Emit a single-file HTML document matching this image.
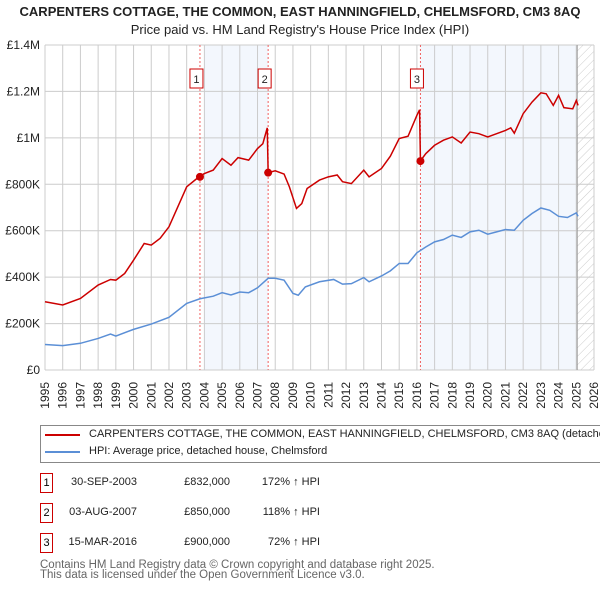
<!DOCTYPE html>
<html><head><meta charset="utf-8"><style>
body{margin:0;width:600px;height:590px;background:#fff;font-family:"Liberation Sans","DejaVu Sans",sans-serif;position:relative;overflow:hidden}
.t{position:absolute;white-space:nowrap}
</style></head><body>
<div class="t" style="left:0;width:600px;text-align:center;top:4px;font-size:13px;font-weight:bold;color:#222">CARPENTERS COTTAGE, THE COMMON, EAST HANNINGFIELD, CHELMSFORD, CM3 8AQ</div>
<div class="t" style="left:0;width:600px;text-align:center;top:22px;font-size:13px;color:#222">Price paid vs. HM Land Registry's House Price Index (HPI)</div>
<svg id="c" width="600" height="420" style="position:absolute;left:0;top:0"></svg>
<div style="position:absolute;left:40px;top:425px;width:560px;height:36px;border:1px solid #888;border-right:none;overflow:hidden">
<div style="position:absolute;left:4px;top:8px;width:35px;height:2px;background:#cc0000"></div>
<div class="t" style="left:48px;top:2px;font-size:11px;color:#222">CARPENTERS COTTAGE, THE COMMON, EAST HANNINGFIELD, CHELMSFORD, CM3 8AQ (detached house)</div>
<div style="position:absolute;left:4px;top:25px;width:35px;height:2px;background:#5b8fd6"></div>
<div class="t" style="left:48px;top:19px;font-size:11px;color:#222">HPI: Average price, detached house, Chelmsford</div>
</div>
<div id="rows"></div>
<div class="t" style="left:40px;top:560px;font-size:11.5px;color:#666;line-height:10px">Contains HM Land Registry data © Crown copyright and database right 2025.<br>This data is licensed under the Open Government Licence v3.0.</div>
<script>
const hpiYears=[1995,1996,1997,1998,1998.7,1999,2000,2001,2002,2003,2003.75,2004.5,2005,2005.5,2006,2006.5,2007,2007.6,2008,2008.5,2009,2009.3,2009.7,2010.5,2011.3,2011.8,2012.3,2013,2013.3,2014,2014.5,2015,2015.5,2016,2016.5,2017,2017.5,2018,2018.5,2019,2019.5,2020,2020.5,2021,2021.5,2022,2022.5,2023,2023.5,2024,2024.5,2025,2025.1];
const hpiValues=[110,105,115,136,155,146,175,198,227,287,307,318,333,323,336,333,354,395,395,387,330,322,358,380,390,370,372,398,380,405,427,459,459,505,530,552,562,581,571,595,602,585,595,605,602,645,674,698,688,662,657,677,662];
const redYears=[1995,1996,1997,1998,1998.7,1999,1999.5,2000,2000.6,2001,2001.5,2002,2002.5,2003,2003.5,2003.75,2004,2004.5,2005,2005.5,2005.9,2006.5,2007,2007.3,2007.55,2007.6,2008,2008.5,2008.8,2009.2,2009.5,2009.8,2010.5,2011,2011.5,2011.8,2012.3,2013,2013.3,2014,2014.5,2015,2015.5,2016,2016.15,2016.2,2016.5,2017,2017.5,2018,2018.5,2019,2019.5,2020,2020.5,2021,2021.3,2021.5,2022,2022.5,2023,2023.3,2023.7,2024,2024.3,2024.8,2025,2025.1];
const redValues=[294,280,308,366,390,387,416,473,545,538,567,617,703,789,820,835,846,861,911,882,915,904,954,975,1043,850,858,844,789,696,717,782,818,832,840,811,803,861,832,868,921,997,1007,1097,1121,901,932,968,990,1004,978,1025,1018,1004,1018,1032,1043,1020,1104,1154,1194,1190,1140,1183,1130,1125,1161,1140];
const saleYears=[2003.75,2007.6,2016.2];
const saleValues=[832,850,900];
const saleDates=["30-SEP-2003","03-AUG-2007","15-MAR-2016"];
const salePrices=["£832,000","£850,000","£900,000"];
const saleHpi=["172% ↑ HPI","118% ↑ HPI","72% ↑ HPI"];
const yTicks=[0,200,400,600,800,1000,1200,1400];
const yLabels=["£0","£200K","£400K","£600K","£800K","£1M","£1.2M","£1.4M"];
const ns="http://www.w3.org/2000/svg",svg=document.getElementById('c');
const X=y=>45+(y-1995)*(549/31), Y=v=>370-v*(325/1400);
function mk(t,a,p){const e=document.createElementNS(ns,t);for(const k in a)e.setAttribute(k,a[k]);(p||svg).appendChild(e);return e;}
const defs=mk('defs',{});const pat=mk('pattern',{id:'h',width:6,height:6,patternUnits:'userSpaceOnUse',patternTransform:'rotate(45)'},defs);mk('line',{x1:0,y1:0,x2:0,y2:6,stroke:'#ccc','stroke-width':1},pat);
let e;
e=mk('rect',{x:X(2004),y:45,width:X(2007.6)-X(2004),height:325,fill:'#eef3fc',opacity:0.7});
e=mk('rect',{x:X(2016.2),y:45,width:X(2025.05)-X(2016.2),height:325,fill:'#eef3fc',opacity:0.7});
e=mk('rect',{x:X(2025.05),y:45,width:594-X(2025.05),height:325,fill:'url(#h)'});
for(let yr=1995;yr<=2026;yr++){e=mk('line',{x1:X(yr),x2:X(yr),y1:45,y2:370,stroke:'#ccc'});
e=mk('text',{x:0,y:0,'text-anchor':'end','font-size':12,fill:'#222',transform:`translate(${X(yr)+4},382) rotate(-90)`});e.textContent=yr;}
yTicks.forEach((v,i)=>{e=mk('line',{x1:45,x2:594,y1:Y(v),y2:Y(v),stroke:'#ccc'});
e=mk('text',{x:40,y:Y(v)+4,'text-anchor':'end','font-size':12,fill:'#222'});e.textContent=yLabels[i];});
e=mk('line',{x1:X(2025.05),x2:X(2025.05),y1:45,y2:370,stroke:'#999'});
saleYears.forEach((s,i)=>{e=mk('line',{x1:X(s),x2:X(s),y1:45,y2:370,stroke:'#f06060','stroke-dasharray':'2,2'});
e=mk('rect',{x:X(s)-10,y:69,width:13,height:19,fill:'#fff',stroke:'#cc0000'});
e=mk('text',{x:X(s)-3.5,y:83,'text-anchor':'middle','font-size':11,fill:'#222'});e.textContent=i+1;});
e=mk('polyline',{points:hpiYears.map((y,i)=>X(y)+','+Y(hpiValues[i])).join(' '),fill:'none',stroke:'#5b8fd6','stroke-width':1.5});
e=mk('polyline',{points:redYears.map((y,i)=>X(y)+','+Y(redValues[i])).join(' '),fill:'none',stroke:'#cc0000','stroke-width':1.5});
saleYears.forEach((s,i)=>{e=mk('circle',{cx:X(s),cy:Y(saleValues[i]),r:4,fill:'#cc0000'});});
const rows=document.getElementById('rows');
saleDates.forEach((d,i)=>{const t=476+i*30;
rows.insertAdjacentHTML('beforeend',`<div style="position:absolute;left:40px;top:${t-3}px;width:11px;height:18px;border:1px solid #cc0000;font-size:11px;text-align:center;line-height:18px">${i+1}</div><div class="t" style="left:60px;width:77px;text-align:right;top:${t}px;font-size:11px;color:#222">${d}</div><div class="t" style="left:160px;width:70px;text-align:right;top:${t}px;font-size:11px;color:#222">${salePrices[i]}</div><div class="t" style="left:250px;width:70px;text-align:right;top:${t}px;font-size:11px;color:#222">${saleHpi[i]}</div>`);});
</script>
</body></html>
